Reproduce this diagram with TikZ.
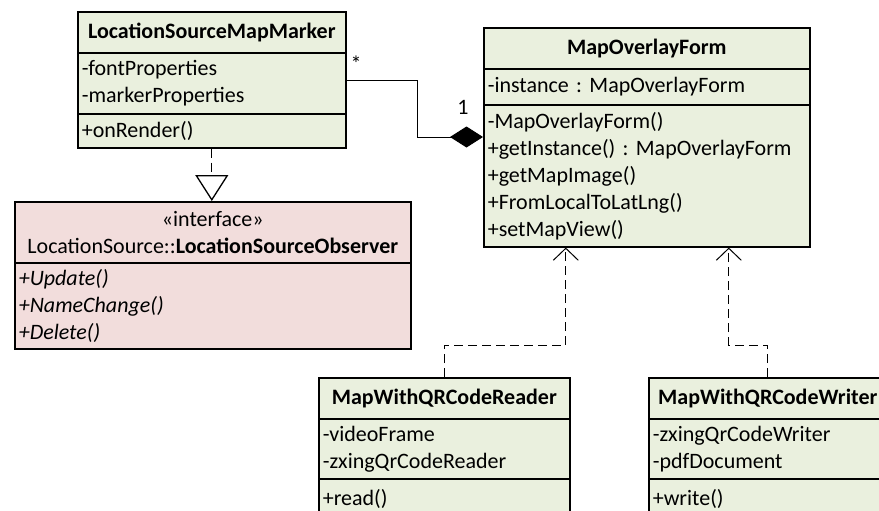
\documentclass[tikz,border=0pt]{standalone}
\usepackage{fontspec}
\setmainfont{Carlito}
\usetikzlibrary{arrows.meta,calc}
\definecolor{classgreen}{RGB}{234,240,222}
\definecolor{ifacepink}{RGB}{242,221,220}
\tikzset{
  umlbox/.style={draw, line width=1.6pt, anchor=north west, inner xsep=4pt,
    inner ysep=0pt, font=\fontsize{22}{27}\selectfont},
  cgreen/.style={umlbox, fill=classgreen},
  cpink/.style={umlbox, fill=ifacepink},
  headtxt/.style={align=center},
  bodytxt/.style={align=left},
  lbl/.style={font=\fontsize{22}{27}\selectfont, inner sep=0pt},
  dashline/.style={line width=1pt, dash pattern=on 9pt off 5pt},
  depend/.style={dashline, -{Straight Barb[length=12pt,width=25pt,line width=1pt]}},
  realize/.style={dashline, -{Triangle[length=26pt,width=33pt,fill=white,line width=1.3pt]}},
  compose/.style={line width=1pt, {Diamond[length=33pt,width=21pt]}-}
}
\frenchspacing
\begin{document}
\begin{tikzpicture}[x=1pt,y=-1pt]
\clip (0,0) rectangle (879,511);

% LocationSourceMapMarker
\node[cgreen, headtxt, text width=260, minimum height=41] (lsmT) at (77,11) {\textbf{LocationSourceMapMarker}};
\node[cgreen, bodytxt, text width=260, minimum height=61] (lsmA) at (77,52) {-fontProperties\\-markerProperties};
\node[cgreen, bodytxt, text width=260, minimum height=34] (lsmO) at (77,113) {+onRender()};

% MapOverlayForm
\node[cgreen, headtxt, text width=318, minimum height=41] (mofT) at (483,27) {\textbf{MapOverlayForm}};
\node[cgreen, bodytxt, text width=318, minimum height=36] (mofA) at (483,68) {-instance : MapOverlayForm};
\node[cgreen, bodytxt, text width=318, minimum height=142] (mofO) at (483,104)
  {-MapOverlayForm()\\+getInstance() : MapOverlayForm\\+getMapImage()\\+FromLocalToLatLng()\\+setMapView()};

% LocationSourceObserver interface
\node[cpink, headtxt, text width=388, minimum height=61] (ifT) at (14,201)
  {«interface»\\LocationSource::\textbf{LocationSourceObserver}};
\node[cpink, bodytxt, text width=388, minimum height=86] (ifO) at (14,262)
  {\itshape +Update()\\\itshape +NameChange()\\\itshape +Delete()};

% MapWithQRCodeReader
\node[cgreen, headtxt, text width=243, minimum height=41] (rdT) at (318,377) {\textbf{MapWithQRCodeReader}};
\node[cgreen, bodytxt, text width=243, minimum height=60] (rdA) at (318,418) {-videoFrame\\-zxingQrCodeReader};
\node[cgreen, bodytxt, text width=243, minimum height=40] (rdO) at (318,478) {+read()};

% MapWithQRCodeWriter
\node[cgreen, headtxt, text width=230, minimum height=41] (wrT) at (648,377) {\textbf{MapWithQRCodeWriter}};
\node[cgreen, bodytxt, text width=230, minimum height=60] (wrA) at (648,418) {-zxingQrCodeWriter\\-pdfDocument};
\node[cgreen, bodytxt, text width=230, minimum height=40] (wrO) at (648,478) {+write()};

% composition: MapOverlayForm 1 -- * LocationSourceMapMarker
\coordinate (compEnd) at ([yshift=-33pt]mofO.north west);
\draw[compose] (compEnd) -- ++(-66,0) |- ([yshift=3pt]lsmA.east);
\node[lbl] (mult1) at (463,107) {1};
\node[lbl] (multN) at (356,64) {*};

% realization of the observer interface
\draw[realize] (lsmO.south) -- (lsmO.south |- ifT.north);

% dependencies on MapOverlayForm
\draw[depend] (rdT.north) -- ++(0,-32) -| ([xshift=-81pt]mofO.south);
\draw[depend] (wrT.north) -- ++(0,-32) -| ([xshift=82pt]mofO.south);
\end{tikzpicture}
\end{document}
